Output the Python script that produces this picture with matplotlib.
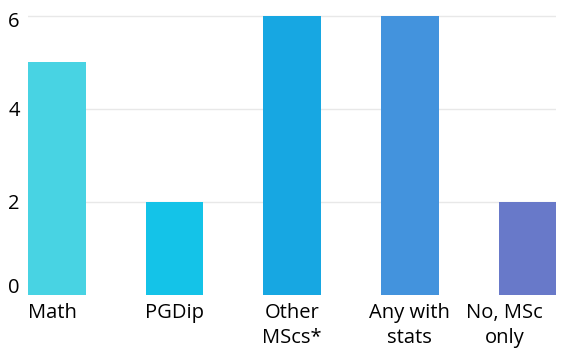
import matplotlib
matplotlib.use("Agg")
import matplotlib.pyplot as plt
import matplotlib.transforms as mtransforms

categories = ["Math", "PGDip", "Other\nMScs*", "Any with\nstats", "No, MSc\nonly"]
counts = [5, 2, 6, 6, 2]
bar_colors = ["#48D3E3", "#14C3E8", "#17A7E2", "#4393DD", "#6879C9"]
y_ticks = [0, 2, 4, 6]

plt.rcParams["font.family"] = ["Open Sans", "DejaVu Sans"]

fig = plt.figure(figsize=(5.71, 3.49), dpi=100)
ax = fig.add_axes([0.049, 0.155, 0.925, 0.802])

x = list(range(len(categories)))
ax.bar(x, counts, width=0.49, color=bar_colors, zorder=2)

ax.set_xlim(-0.245, len(categories) - 1 + 0.245)
ax.set_ylim(0, 6.02)
ax.set_yticks(y_ticks)
ax.set_xticks(x)
ax.set_xticklabels(categories, fontsize=14.5, linespacing=1.3)
ax.tick_params(axis="y", labelsize=14.5, length=0, pad=6)
ax.tick_params(axis="x", length=0, pad=6)


def shift(label, dx_px, dy_px):
    label.set_transform(label.get_transform()
                        + mtransforms.ScaledTranslation(dx_px / 100, dy_px / 100,
                                                        fig.dpi_scale_trans))


# nudge outer labels so they stay inside the frame
xlabels = ax.get_xticklabels()
shift(xlabels[0], -4, 0)
shift(xlabels[-1], -23, 0)
ylabels = ax.get_yticklabels()
shift(ylabels[0], 0, 9)
shift(ylabels[-1], 0, -4)

for val in y_ticks[1:]:
    ax.axhline(val, color="#e8e8e8", linewidth=1.0, zorder=1)

for spine in ax.spines.values():
    spine.set_visible(False)

fig.savefig("out.png", dpi=100)
